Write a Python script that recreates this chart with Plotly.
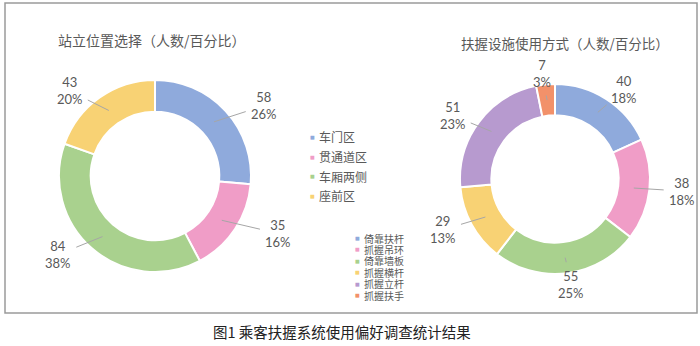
import math
import plotly.graph_objects as go

W, H = 700, 346

# ---- data ----
stand_title = "站立位置选择（人数/百分比）"
stand_labels = ["车门区", "贯通道区", "车厢两侧", "座前区"]
stand_values = [58, 35, 84, 43]
stand_pcts = ["26%", "16%", "38%", "20%"]
stand_colors = ["#8FAADC", "#F09DC7", "#A9D18E", "#F8D274"]

grip_title = "扶握设施使用方式（人数/百分比）"
grip_labels = ["倚靠扶杆", "抓握吊环", "倚靠墙板", "抓握横杆", "抓握立杆", "抓握扶手"]
grip_values = [40, 38, 55, 29, 51, 7]
grip_pcts = ["18%", "18%", "25%", "13%", "23%", "3%"]
grip_colors = ["#8FAADC", "#F09DC7", "#A9D18E", "#F8D274", "#B79ACF", "#F2916A"]

caption = "图1 乘客扶握系统使用偏好调查统计结果"

TXT = "#595959"
LBL_FONT = dict(family="Lato, Open Sans, sans-serif", size=13, color=TXT)
CJK = "Noto Sans CJK SC"

fig = go.Figure()
annotations = []


def px(x):
    return x / W


def py(y):
    return 1 - y / H


def donut(labels, values, pcts, colors, cx, cy, R, hole, rx, ry):
    fig.add_trace(go.Pie(
        labels=labels, values=values, hole=hole, sort=False,
        direction="clockwise", rotation=0, textinfo="none",
        hoverinfo="label+value+percent", showlegend=False,
        marker=dict(colors=colors, line=dict(color="white", width=2)),
        domain=dict(x=[px(cx - R), px(cx + R)], y=[py(cy + R), py(cy - R)]),
    ))
    total = sum(values)
    rm = R * (1 + hole) / 2
    cum = 0
    for v, p in zip(values, pcts):
        a = (cum + v / 2) / total * 2 * math.pi
        cum += v
        s, c = math.sin(a), math.cos(a)
        hx, hy = cx + rm * s, cy - rm * c
        tx, ty = cx + rx * s, cy - ry * c
        annotations.append(dict(
            x=px(hx), y=py(hy), xref="paper", yref="paper",
            ax=tx - hx, ay=ty - hy, text=f"{v}<br>{p}",
            showarrow=True, arrowhead=0, arrowwidth=1, arrowcolor="#A6A6A6",
            standoff=0, startstandoff=4,
            font=LBL_FONT, align="center",
        ))


donut(stand_labels, stand_values, stand_pcts, stand_colors, 155, 176, 96, 0.67, 148, 104)
donut(grip_labels, grip_values, grip_pcts, grip_colors, 555, 179, 95, 0.67, 128, 106)


def text_at(x, y, text, font, xanchor="center"):
    annotations.append(dict(x=px(x), y=py(y), xref="paper", yref="paper", showarrow=False,
                            text=text, xanchor=xanchor, yanchor="middle", font=font))


# titles
text_at(152, 40, stand_title, dict(family=CJK, size=14, color=TXT))
text_at(565, 43, grip_title, dict(family=CJK, size=13.5, color=TXT))


def legend(labels, colors, x0, y0, dy, size):
    for i, (lab, col) in enumerate(zip(labels, colors)):
        y = y0 + i * dy
        text_at(x0, y, "■", dict(family="DejaVu Sans", size=5, color=col))
        text_at(x0 + 5, y, lab, dict(family=CJK, size=size, color=TXT), xanchor="left")


legend(stand_labels, stand_colors, 312, 137, 19.5, 12)
legend(grip_labels, grip_colors, 357, 238, 11.4, 10)

# caption
text_at(342, 331, caption, dict(family=CJK, size=14.5, color="#222222"))

fig.update_layout(
    width=W, height=H, margin=dict(l=0, r=0, t=0, b=0),
    paper_bgcolor="white", plot_bgcolor="white",
    annotations=annotations,
    shapes=[dict(type="rect", xref="paper", yref="paper",
                 x0=px(5), x1=px(697), y0=py(313), y1=py(3),
                 line=dict(color="#9A9A9A", width=1.5))],
)

fig.write_html("out.html")
